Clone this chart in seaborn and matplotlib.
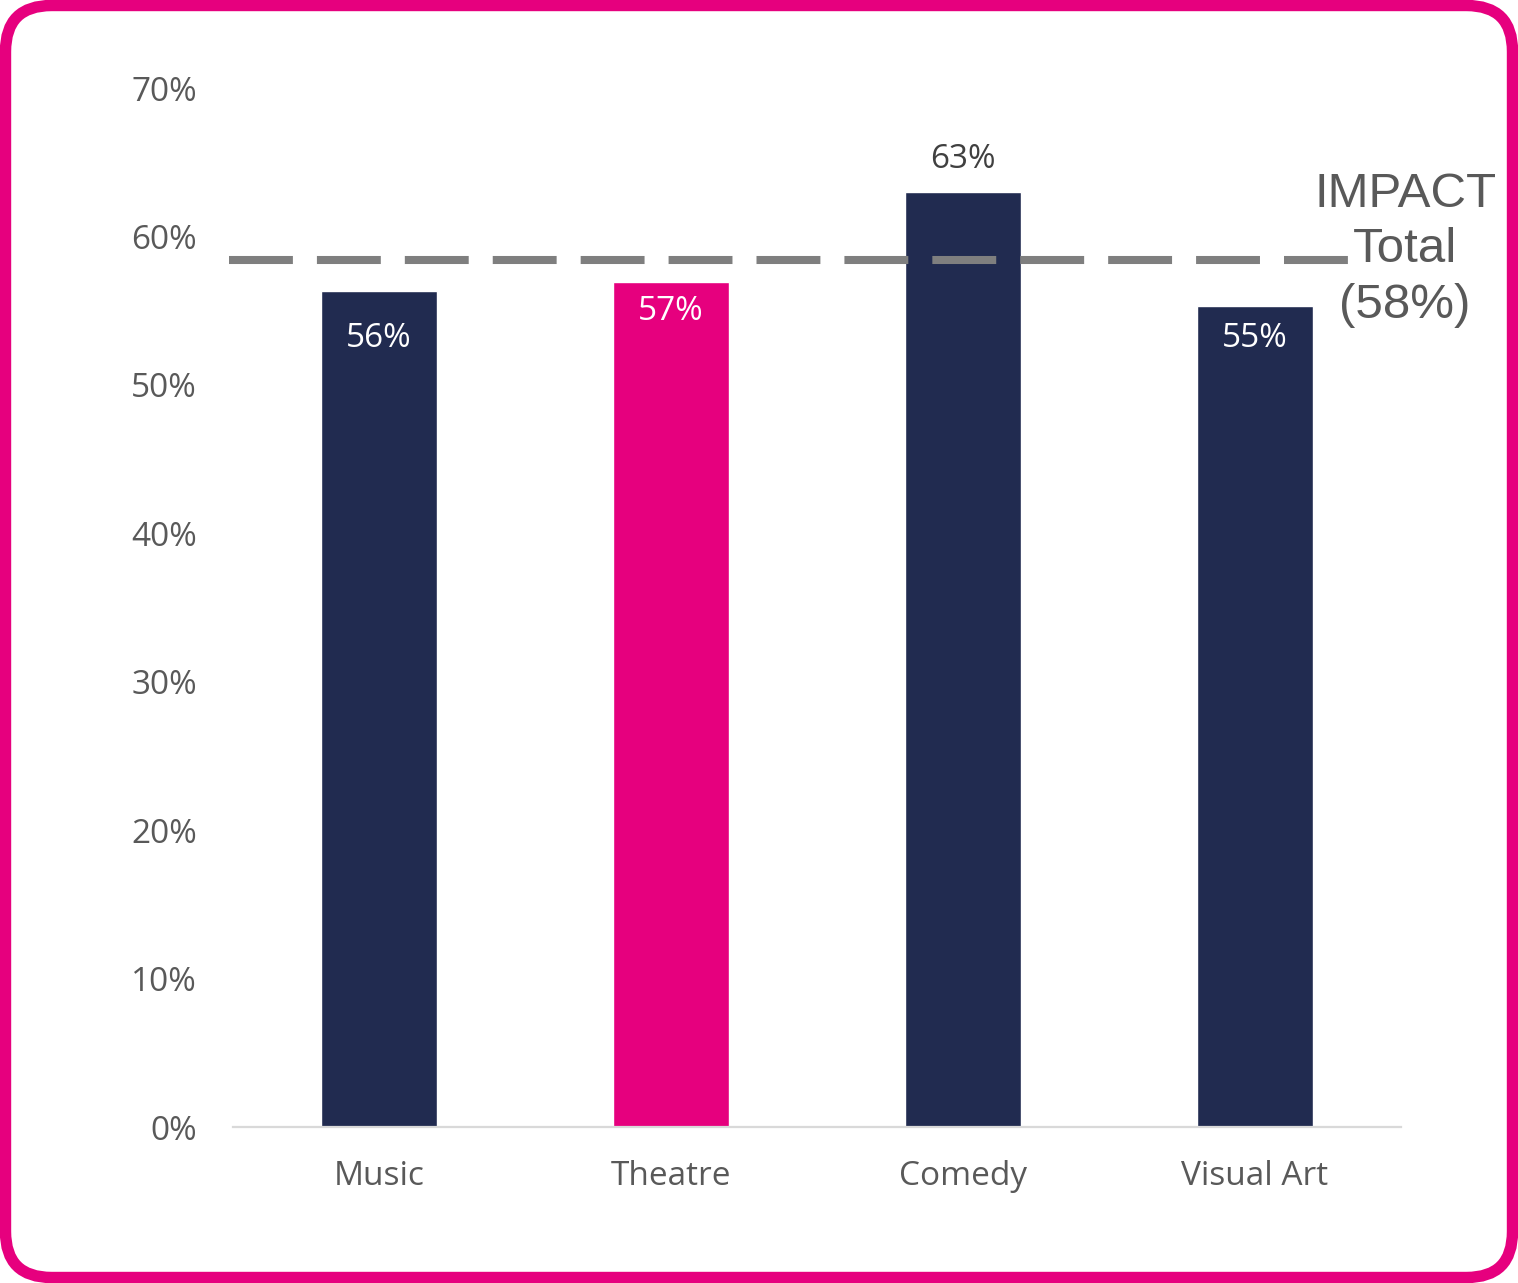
import matplotlib
matplotlib.use("Agg")
import matplotlib.pyplot as plt
from matplotlib.patches import FancyBboxPatch
from matplotlib.transforms import IdentityTransform
import seaborn as sns
import pandas as pd

# Share of respondents per art form, with the overall IMPACT total
categories = ["Music", "Theatre", "Comedy", "Visual Art"]
shares = [0.563, 0.569, 0.630, 0.553]
bar_colors = ["#212B50", "#E6007E", "#212B50", "#212B50"]
impact_total = 0.584
y_ticks = [0.0, 0.1, 0.2, 0.3, 0.4, 0.5, 0.6, 0.7]

sns.set_theme(style="white")
plt.rcParams["font.family"] = ["Open Sans", "DejaVu Sans"]
plt.rcParams["lines.scale_dashes"] = False

W, H = 1518, 1283
fig = plt.figure(figsize=(W / 100, H / 100), dpi=100)
fig.patch.set_facecolor("white")

# Rounded magenta frame around the whole graphic, drawn beneath the axes
frame = FancyBboxPatch((5.5, 5.5), W - 11, H - 11,
                       boxstyle="round,pad=0,rounding_size=46",
                       transform=IdentityTransform(),
                       facecolor="white", edgecolor="#E6007E",
                       linewidth=8.2, zorder=-10)
fig.add_artist(frame)

ax = fig.add_axes([233 / W, 1 - 1127 / H, (1401 - 233) / W, (1127 - 88) / H])
ax.set_facecolor("none")
ax.set_zorder(1)

df = pd.DataFrame({"category": categories, "share": shares})
sns.barplot(data=df, x="category", y="share", hue="category",
            palette=bar_colors, width=0.4, legend=False, ax=ax,
            saturation=1)

ax.set_xlim(-0.5, 3.5)
ax.set_ylim(0, 0.7)
ax.set_yticks(y_ticks)
ax.set_yticklabels([f"{t:.0%}" for t in y_ticks])
ax.set_xlabel("")
ax.set_ylabel("")
for side in ["top", "right", "left"]:
    ax.spines[side].set_visible(False)
ax.spines["bottom"].set_color("#D9D9D9")
ax.spines["bottom"].set_linewidth(1.6)
ax.tick_params(axis="y", length=0, pad=26, labelsize=24, labelcolor="#595959")
ax.tick_params(axis="x", length=0, pad=24, labelsize=24, labelcolor="#595959")

# Value labels: inside the bar in white, above it for the tallest bar
label_offsets = [-34, -21, 23, -23]
for i, (v, off) in enumerate(zip(shares, label_offsets)):
    inside = off < 0
    ax.annotate(f"{v:.0%}", xy=(i, v), xytext=(0, off),
                textcoords="offset points", ha="center", va="center",
                fontsize=24, color="white" if inside else "#404040")

# Dashed reference line for the IMPACT total
ax.plot([-0.514, 3.325], [impact_total, impact_total], color="#7F7F7F",
        linewidth=5.8, dashes=(46, 17.3), clip_on=False, zorder=5)
ax.text(3.514, impact_total + 0.007, f"IMPACT\nTotal\n({impact_total:.0%})",
        ha="center", va="center", fontsize=35.5, color="#595959",
        family=["Liberation Sans", "DejaVu Sans"], linespacing=1.3,
        clip_on=False)

fig.savefig("out.png", dpi=100)
